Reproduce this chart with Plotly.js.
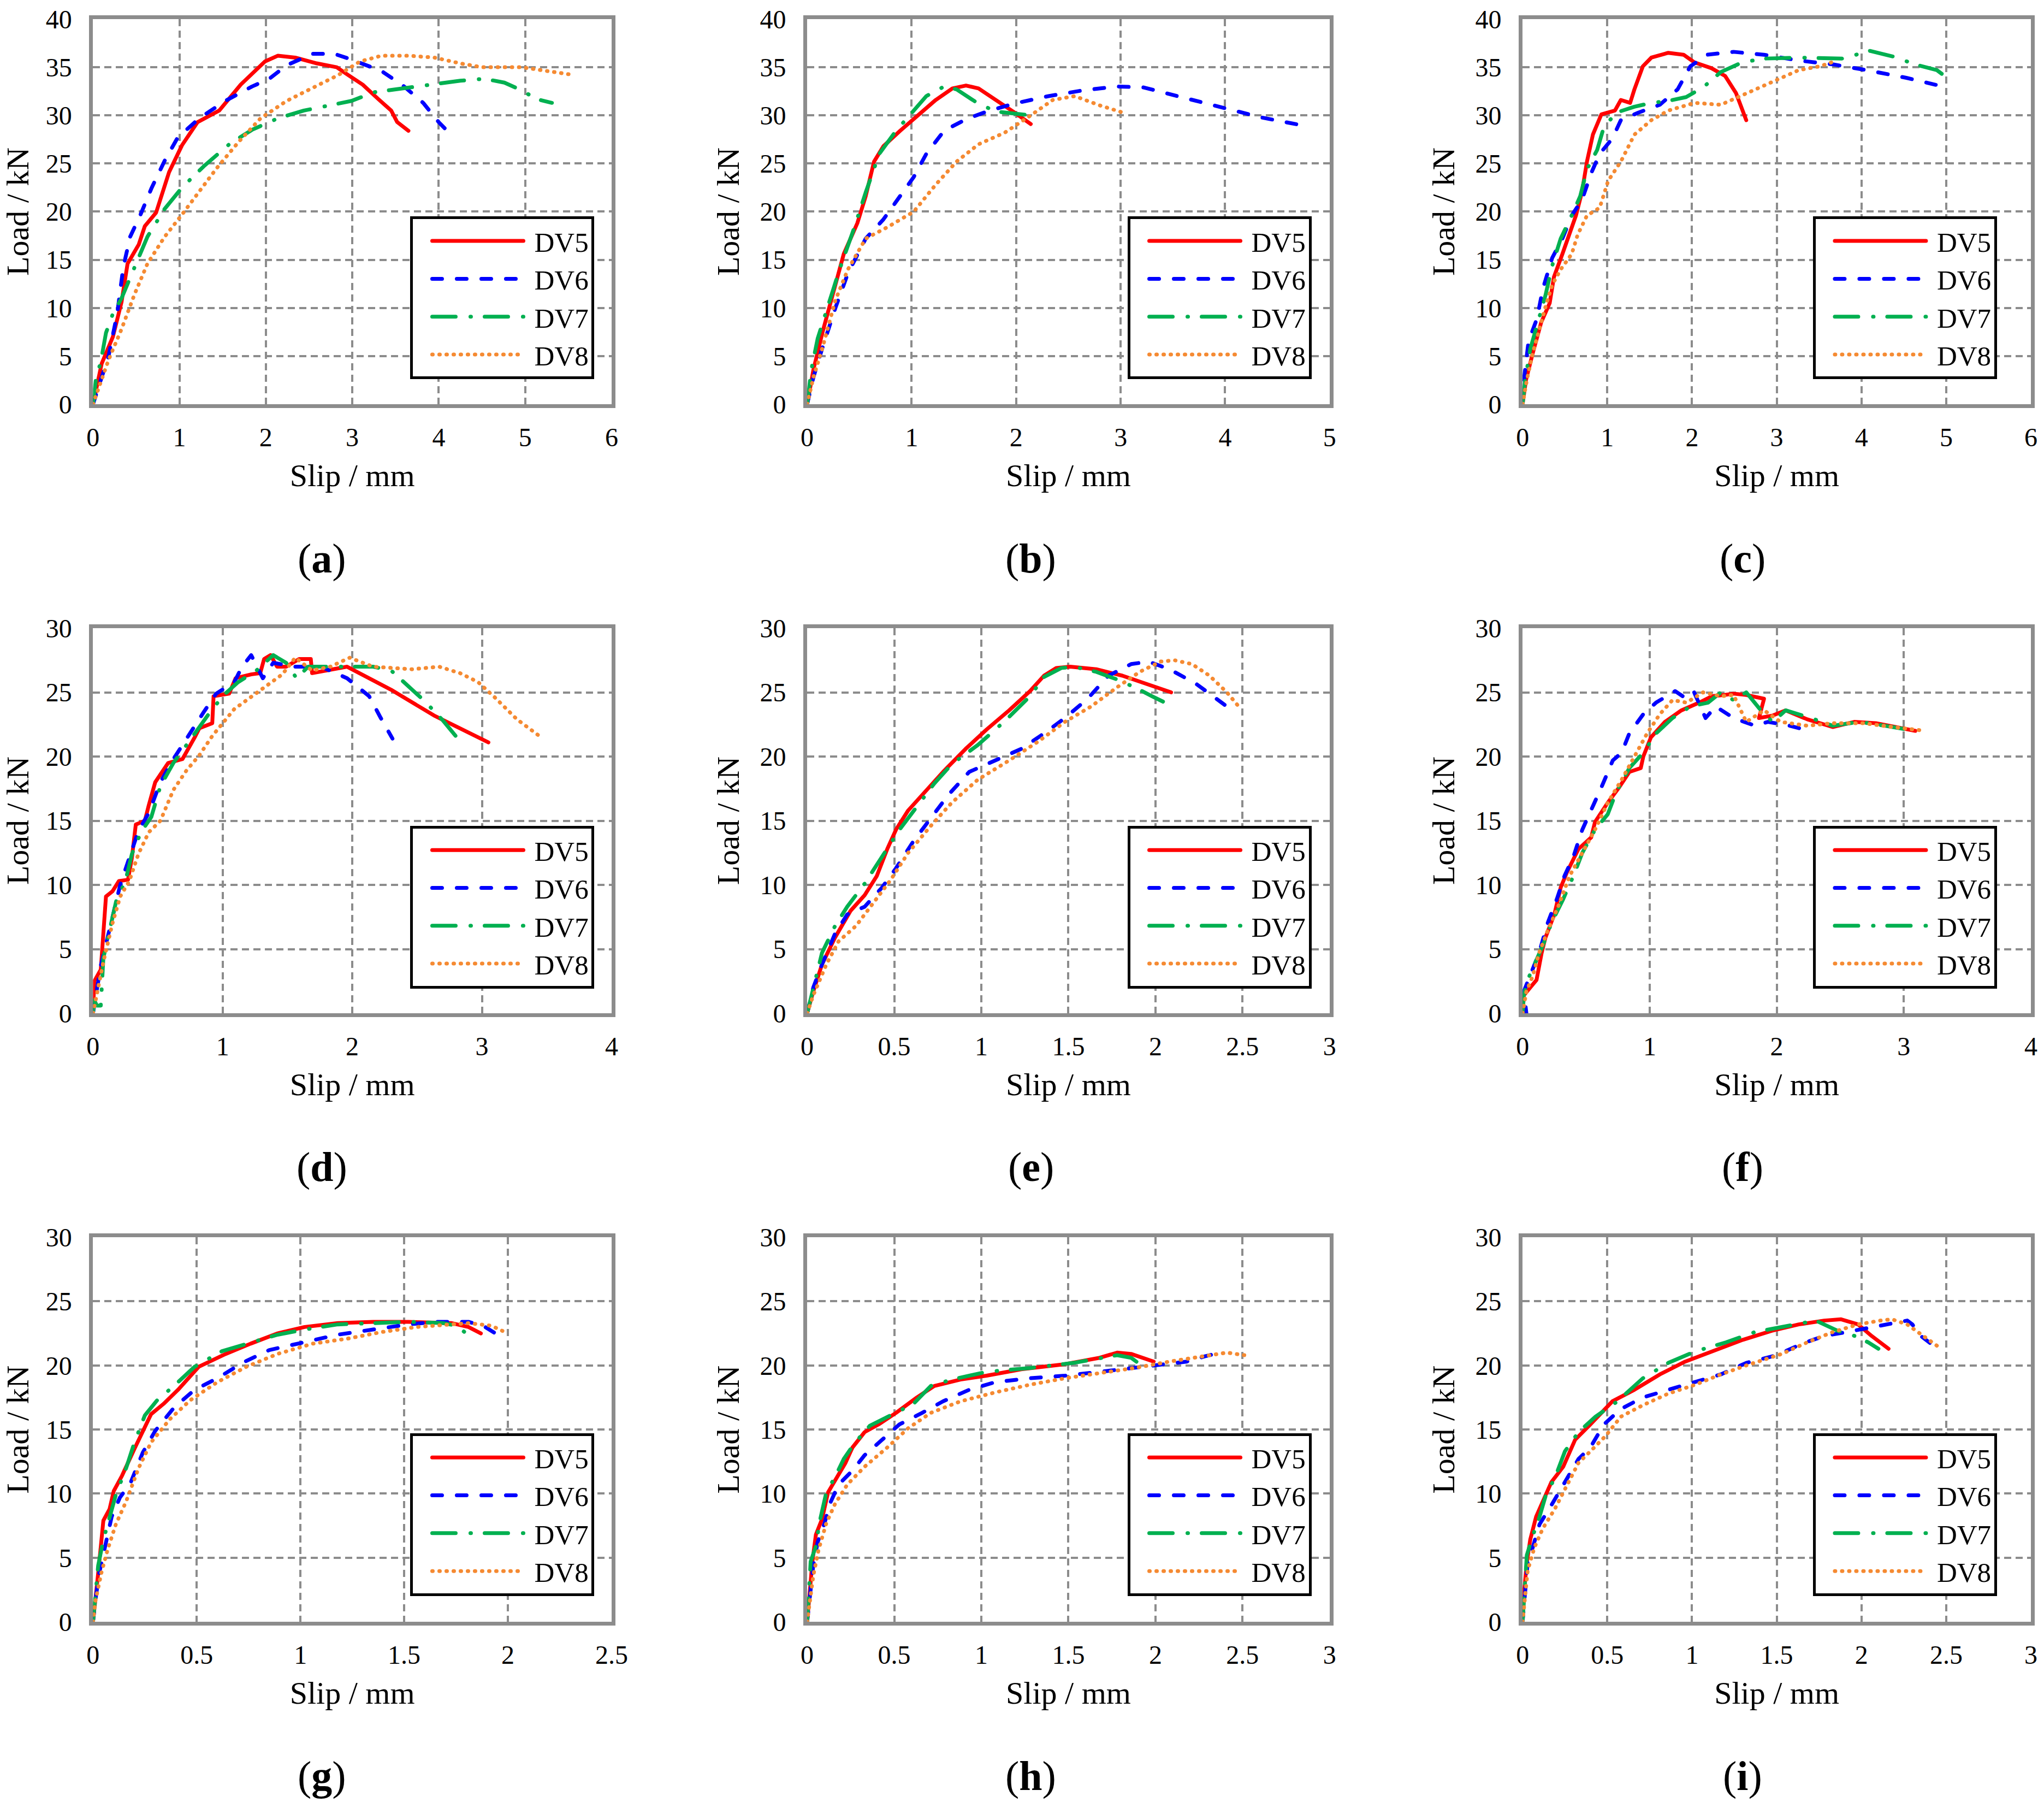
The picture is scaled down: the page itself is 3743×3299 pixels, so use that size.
<!DOCTYPE html>
<html>
<head>
<meta charset="utf-8">
<script src="https://cdn.plot.ly/plotly-3.0.1.min.js"></script>
<style>
  html, body { margin: 0; padding: 0; background: #fff; }
  #chart { width: 3743px; height: 3299px; }
</style>
</head>
<body>
<div id="chart"></div>
<script>
// panel set-up
const panels = ['a', 'b', 'c', 'd', 'e', 'f', 'g', 'h', 'i'];
const xMax = [6, 5, 6, 4, 3, 4, 2.5, 3, 3];
const xStep = [1, 1, 1, 1, 0.5, 1, 0.5, 0.5, 0.5];
const yMax = [40, 40, 40, 30, 30, 30, 30, 30, 30];
const seriesNames = ['DV5', 'DV6', 'DV7', 'DV8'];

// (a)
const slip_a_DV5 = [0, 0.1, 0.23, 0.33, 0.40, 0.53, 0.60, 0.73, 0.88, 1.03, 1.21, 1.46, 1.71, 1.99, 2.14, 2.34, 2.59, 2.82, 2.95, 3.12, 3.30, 3.45, 3.52, 3.65];
const load_a_DV5 = [0, 4.2, 7.0, 10.6, 14.6, 16.6, 18.5, 19.9, 24.1, 26.9, 29.3, 30.5, 33.2, 35.6, 36.2, 36.0, 35.4, 35.0, 34.2, 33.2, 31.7, 30.5, 29.3, 28.4];
const slip_a_DV6 = [0, 0.10, 0.18, 0.28, 0.35, 0.43, 0.55, 0.68, 0.83, 0.98, 1.23, 1.53, 1.84, 2.04, 2.24, 2.54, 2.79, 2.99, 3.34, 3.60, 3.82, 4.00, 4.14];
const load_a_DV6 = [0, 2.7, 5.0, 9.4, 14.2, 17.4, 19.7, 22.5, 25.3, 27.7, 29.7, 31.5, 33.0, 33.8, 35.2, 36.4, 36.4, 35.8, 34.6, 33.0, 31.3, 29.3, 28.0];
const slip_a_DV7 = [0, 0.035, 0.09, 0.15, 0.23, 0.33, 0.48, 0.63, 0.83, 1.03, 1.28, 1.59, 1.84, 2.14, 2.44, 2.74, 2.99, 3.25, 3.60, 3.95, 4.25, 4.53, 4.76, 4.96, 5.13, 5.31];
const load_a_DV7 = [0, 2.7, 4.4, 7.4, 9.4, 11.0, 14.2, 17.4, 20.3, 22.5, 24.7, 27.1, 28.5, 29.7, 30.5, 31.1, 31.5, 32.4, 32.8, 33.2, 33.6, 33.8, 33.4, 32.6, 31.7, 31.3];
const slip_a_DV8 = [0, 0.075, 0.18, 0.33, 0.48, 0.63, 0.83, 1.03, 1.23, 1.43, 1.69, 1.94, 2.24, 2.54, 2.84, 3.09, 3.34, 3.65, 3.95, 4.25, 4.50, 4.96, 5.26, 5.56];
const load_a_DV8 = [0, 1.9, 4.6, 7.8, 11.4, 14.6, 17.4, 19.7, 22.1, 24.5, 27.3, 29.7, 31.5, 32.8, 34.2, 35.6, 36.2, 36.2, 36.0, 35.4, 35.0, 35.0, 34.6, 34.2];

// (b)
const slip_b_DV5 = [0, 0.06, 0.15, 0.25, 0.35, 0.48, 0.56, 0.64, 0.73, 0.89, 1.02, 1.23, 1.39, 1.52, 1.64, 1.81, 1.97, 2.14];
const load_b_DV5 = [0, 3.6, 7.6, 11.6, 15.6, 18.8, 21.6, 25.2, 26.8, 28.4, 29.6, 31.6, 32.8, 33.1, 32.8, 31.6, 30.4, 29.1];
const slip_b_DV6 = [0, 0.06, 0.15, 0.27, 0.39, 0.56, 0.73, 0.89, 1.02, 1.14, 1.31, 1.52, 1.72, 1.97, 2.31, 2.64, 2.97, 3.22, 3.55, 3.97, 4.34, 4.72];
const load_b_DV6 = [0, 2.8, 6.0, 10.0, 13.6, 17.2, 19.2, 21.6, 23.6, 26.0, 28.4, 29.6, 30.4, 31.2, 32.0, 32.6, 33.0, 32.9, 32.0, 30.8, 29.8, 29.0];
const slip_b_DV7 = [0, 0.04, 0.10, 0.19, 0.31, 0.44, 0.56, 0.69, 0.85, 0.98, 1.14, 1.31, 1.43, 1.64, 1.81, 2.14];
const load_b_DV7 = [0, 3.6, 6.8, 10.0, 14.0, 18.0, 22.0, 26.0, 28.4, 30.0, 32.0, 33.0, 32.7, 31.2, 30.4, 30.0];
const slip_b_DV8 = [0, 0.06, 0.15, 0.27, 0.39, 0.56, 0.77, 1.02, 1.23, 1.43, 1.64, 1.89, 2.14, 2.35, 2.56, 2.81, 3.05];
const load_b_DV8 = [0, 2.8, 6.0, 10.8, 14.0, 17.2, 18.4, 20.0, 22.8, 25.2, 27.0, 28.2, 30.0, 31.6, 32.0, 31.0, 30.2];

// (c)
const slip_c_DV5 = [0, 0.04, 0.12, 0.22, 0.32, 0.37, 0.47, 0.55, 0.63, 0.70, 0.76, 0.83, 0.93, 1.09, 1.16, 1.27, 1.32, 1.42, 1.52, 1.72, 1.90, 2.03, 2.23, 2.39, 2.52, 2.64];
const load_c_DV5 = [0, 2.5, 5.3, 8.5, 10.5, 13.2, 15.6, 17.6, 19.6, 22.0, 25.2, 28.0, 30.1, 30.5, 31.6, 31.3, 32.7, 35.1, 36.0, 36.5, 36.3, 35.5, 34.9, 34.1, 32.3, 29.5];
const slip_c_DV6 = [0, 0.015, 0.07, 0.17, 0.24, 0.35, 0.47, 0.58, 0.70, 0.81, 0.91, 1.06, 1.16, 1.37, 1.62, 1.83, 1.98, 2.18, 2.49, 2.85, 3.26, 3.66, 4.06, 4.53, 4.96];
const load_c_DV6 = [0, 2.5, 6.5, 8.9, 12.0, 15.2, 17.2, 19.6, 21.2, 24.0, 26.0, 27.6, 29.5, 30.3, 31.1, 32.7, 35.1, 36.3, 36.6, 36.3, 35.7, 35.3, 34.7, 33.9, 33.0];
const slip_c_DV7 = [0, 0.03, 0.09, 0.17, 0.27, 0.35, 0.45, 0.58, 0.68, 0.76, 0.88, 0.96, 1.11, 1.32, 1.52, 1.72, 1.93, 2.13, 2.34, 2.59, 2.85, 3.26, 3.77, 4.10, 4.38, 4.63, 4.89, 5.07];
const load_c_DV7 = [0, 2.5, 5.7, 8.1, 11.3, 14.4, 17.2, 19.6, 21.6, 24.4, 26.4, 28.8, 30.3, 30.9, 31.3, 31.5, 31.9, 32.9, 34.5, 35.5, 35.9, 36.0, 35.9, 36.7, 36.1, 35.3, 34.7, 33.5];
const slip_c_DV8 = [0, 0.05, 0.12, 0.19, 0.27, 0.35, 0.45, 0.58, 0.65, 0.76, 0.91, 1.01, 1.16, 1.32, 1.52, 1.72, 2.03, 2.34, 2.64, 2.95, 3.26, 3.51, 3.71];
const load_c_DV8 = [0, 2.5, 5.3, 7.7, 10.1, 12.4, 14.0, 15.6, 17.6, 19.6, 20.4, 23.2, 25.2, 28.0, 29.5, 30.5, 31.3, 31.1, 32.3, 33.5, 34.7, 35.1, 35.7];

// (d)
const slip_d_DV5 = [0, 0.01, 0.06, 0.08, 0.10, 0.15, 0.20, 0.27, 0.30, 0.33, 0.40, 0.43, 0.48, 0.58, 0.69, 0.79, 0.82, 0.92, 0.93, 1.05, 1.10, 1.22, 1.29, 1.32, 1.37, 1.42, 1.49, 1.59, 1.68, 1.69, 1.96, 2.30, 2.63, 3.05];
const load_d_DV5 = [0, 2.5, 3.4, 6.1, 9.1, 9.5, 10.3, 10.4, 12.1, 14.7, 15.0, 16.2, 18.0, 19.5, 19.8, 21.6, 22.2, 22.6, 24.7, 24.9, 26.1, 26.4, 26.5, 27.6, 27.9, 27.0, 27.0, 27.6, 27.6, 26.5, 27.0, 25.2, 23.2, 21.1];
const slip_d_DV6 = [0, 0.03, 0.06, 0.11, 0.16, 0.21, 0.28, 0.35, 0.43, 0.52, 0.62, 0.75, 0.85, 0.95, 1.09, 1.15, 1.22, 1.31, 1.39, 1.56, 1.76, 1.96, 2.13, 2.22, 2.31];
const load_d_DV6 = [0, 1.9, 3.7, 5.8, 7.9, 10.0, 12.1, 14.2, 15.6, 18.0, 19.8, 21.9, 23.4, 24.9, 25.8, 27.0, 27.9, 26.1, 27.3, 27.0, 27.0, 26.1, 24.7, 23.0, 21.4];
const slip_d_DV7 = [0, 0.01, 0.03, 0.06, 0.08, 0.13, 0.18, 0.25, 0.30, 0.37, 0.45, 0.52, 0.62, 0.75, 0.92, 1.02, 1.12, 1.26, 1.39, 1.49, 1.57, 1.66, 1.83, 1.96, 2.16, 2.30, 2.40, 2.56, 2.70, 2.83];
const load_d_DV7 = [0, 1.0, 0.6, 0.6, 4.3, 6.4, 8.8, 10.3, 12.4, 14.1, 15.3, 17.7, 19.5, 21.3, 23.7, 24.9, 25.8, 26.7, 27.9, 27.3, 26.1, 27.0, 27.0, 27.0, 27.0, 26.7, 25.8, 24.3, 22.8, 21.2];
const slip_d_DV8 = [0, 0.03, 0.08, 0.15, 0.21, 0.28, 0.35, 0.43, 0.52, 0.62, 0.72, 0.82, 0.92, 1.09, 1.29, 1.46, 1.56, 1.69, 1.83, 1.98, 2.16, 2.46, 2.67, 2.83, 2.97, 3.10, 3.27, 3.47];
const load_d_DV8 = [0, 1.6, 4.0, 7.0, 9.1, 10.3, 12.4, 14.1, 15.0, 17.4, 18.9, 20.1, 21.6, 23.7, 25.2, 26.4, 27.7, 26.7, 27.0, 27.7, 27.0, 26.8, 27.0, 26.5, 25.8, 24.6, 22.9, 21.4];

// (e)
const slip_e_DV5 = [0, 0.035, 0.085, 0.16, 0.25, 0.33, 0.40, 0.46, 0.51, 0.58, 0.68, 0.78, 0.91, 1.03, 1.16, 1.28, 1.36, 1.43, 1.51, 1.66, 1.81, 1.96, 2.09];
const load_e_DV5 = [0, 1.7, 3.8, 5.9, 8.0, 9.2, 10.7, 12.8, 14.3, 15.8, 17.3, 18.8, 20.6, 22.1, 23.6, 25.1, 26.3, 26.9, 27.0, 26.8, 26.3, 25.6, 25.0];
const slip_e_DV6 = [0, 0.035, 0.085, 0.16, 0.23, 0.33, 0.43, 0.51, 0.61, 0.71, 0.81, 0.93, 1.08, 1.23, 1.36, 1.48, 1.61, 1.73, 1.86, 1.96, 2.08, 2.23, 2.41];
const load_e_DV6 = [0, 2.0, 3.8, 6.2, 7.7, 8.3, 9.8, 11.3, 13.4, 15.2, 17.0, 18.8, 19.7, 20.6, 21.8, 23.0, 24.5, 26.3, 27.2, 27.4, 26.8, 25.7, 23.9];
const slip_e_DV7 = [0, 0.035, 0.085, 0.16, 0.23, 0.33, 0.43, 0.53, 0.63, 0.73, 0.83, 0.98, 1.13, 1.28, 1.36, 1.46, 1.53, 1.66, 1.78, 1.88, 1.98, 2.07];
const load_e_DV7 = [0, 2.0, 4.7, 6.8, 8.3, 10.1, 12.2, 14.3, 16.1, 17.9, 19.4, 20.9, 22.7, 24.7, 26.2, 26.9, 27.0, 26.6, 26.0, 25.4, 24.7, 24.1];
const slip_e_DV8 = [0, 0.035, 0.11, 0.18, 0.28, 0.38, 0.48, 0.58, 0.71, 0.83, 0.98, 1.16, 1.33, 1.48, 1.63, 1.78, 1.91, 2.03, 2.11, 2.21, 2.31, 2.41, 2.49];
const load_e_DV8 = [0, 1.4, 3.8, 5.6, 6.8, 8.6, 10.4, 12.5, 14.6, 16.4, 18.2, 19.7, 21.2, 22.7, 23.9, 25.4, 26.6, 27.4, 27.5, 27.2, 26.3, 25.0, 23.7];

// (f)
const slip_f_DV5 = [0, 0.01, 0.06, 0.11, 0.15, 0.18, 0.25, 0.30, 0.35, 0.44, 0.54, 0.57, 0.67, 0.76, 0.84, 0.93, 0.95, 1.01, 1.12, 1.25, 1.39, 1.49, 1.59, 1.66, 1.76, 1.90, 1.86, 1.97, 2.07, 2.24, 2.44, 2.61, 2.78, 2.95, 3.09];
const load_f_DV5 = [0, 1.4, 2.0, 2.6, 4.7, 5.9, 7.7, 9.8, 11.0, 12.8, 13.7, 14.9, 16.4, 17.6, 18.8, 19.1, 20.0, 21.5, 22.7, 23.6, 24.2, 24.7, 24.8, 24.9, 24.8, 24.5, 23.0, 23.2, 23.6, 22.9, 22.3, 22.7, 22.6, 22.3, 22.0];
const slip_f_DV6 = [0, 0.03, 0.01, 0.06, 0.13, 0.20, 0.27, 0.33, 0.40, 0.47, 0.54, 0.62, 0.71, 0.78, 0.84, 0.95, 1.05, 1.15, 1.20, 1.29, 1.35, 1.44, 1.52, 1.66, 1.83, 1.93, 2.10, 2.22];
const load_f_DV6 = [0, 0, 1.7, 2.9, 4.7, 7.1, 8.9, 10.7, 12.2, 14.3, 15.8, 17.6, 19.7, 20.3, 21.8, 23.3, 24.2, 24.8, 25.1, 24.5, 25.0, 23.0, 23.9, 23.0, 22.4, 22.7, 22.4, 22.1];
const slip_f_DV7 = [0, 0.01, 0.04, 0.08, 0.11, 0.16, 0.23, 0.32, 0.40, 0.47, 0.57, 0.67, 0.74, 0.84, 0.95, 1.05, 1.18, 1.32, 1.46, 1.56, 1.66, 1.76, 1.90, 1.97, 2.07, 2.27, 2.44, 2.65, 2.85, 3.09];
const load_f_DV7 = [0, 1.4, 2.6, 3.5, 4.1, 5.3, 7.1, 8.9, 10.7, 12.5, 14.3, 15.5, 17.3, 19.1, 20.3, 21.8, 23.0, 23.9, 24.2, 25.0, 24.4, 25.0, 23.3, 22.7, 23.6, 23.0, 22.4, 22.7, 22.4, 22.0];
const slip_f_DV8 = [0, 0.03, 0.08, 0.13, 0.20, 0.28, 0.37, 0.47, 0.57, 0.67, 0.78, 0.88, 0.98, 1.08, 1.18, 1.29, 1.42, 1.56, 1.66, 1.76, 1.90, 2.03, 2.24, 2.44, 2.68, 2.91, 3.17];
const load_f_DV8 = [0, 1.7, 2.9, 4.7, 6.5, 8.3, 10.7, 12.5, 14.3, 16.4, 18.2, 20.0, 21.8, 23.3, 24.4, 24.2, 25.0, 24.7, 24.8, 22.7, 23.6, 22.7, 22.4, 22.6, 22.6, 22.3, 22.0];

// (g)
const slip_g_DV5 = [0, 0.01, 0.025, 0.05, 0.08, 0.10, 0.14, 0.20, 0.24, 0.28, 0.34, 0.41, 0.51, 0.64, 0.76, 0.89, 1.02, 1.18, 1.35, 1.52, 1.73, 1.81, 1.87];
const load_g_DV5 = [0, 1.8, 3.8, 7.9, 8.8, 10.2, 11.4, 13.5, 14.9, 16.2, 17.0, 18.1, 19.9, 20.9, 21.7, 22.5, 23.0, 23.3, 23.4, 23.4, 23.3, 23.0, 22.5];
const slip_g_DV6 = [0, 0.01, 0.03, 0.06, 0.09, 0.13, 0.18, 0.24, 0.30, 0.39, 0.49, 0.60, 0.72, 0.85, 1.02, 1.18, 1.35, 1.52, 1.65, 1.81, 1.88, 1.94];
const load_g_DV6 = [0, 1.5, 3.8, 6.1, 8.2, 9.7, 10.8, 13.2, 14.9, 16.7, 18.1, 19.0, 20.2, 21.2, 21.8, 22.4, 22.8, 23.2, 23.4, 23.4, 23.1, 22.5];
const slip_g_DV7 = [0, 0.01, 0.025, 0.05, 0.08, 0.11, 0.16, 0.20, 0.25, 0.31, 0.39, 0.49, 0.62, 0.76, 0.89, 1.02, 1.18, 1.35, 1.52, 1.69, 1.75, 1.80];
const load_g_DV7 = [0, 2.0, 4.4, 6.4, 8.2, 9.9, 12.0, 14.0, 16.1, 17.3, 18.4, 19.9, 21.1, 21.8, 22.4, 22.8, 23.2, 23.3, 23.4, 23.3, 23.1, 22.5];
const slip_g_DV8 = [0, 0.01, 0.04, 0.07, 0.11, 0.16, 0.22, 0.28, 0.37, 0.47, 0.60, 0.74, 0.89, 1.06, 1.23, 1.39, 1.56, 1.71, 1.81, 1.92, 2.00];
const load_g_DV8 = [0, 1.5, 3.8, 5.6, 7.6, 9.4, 12.0, 14.0, 15.8, 17.3, 18.7, 19.9, 20.9, 21.7, 22.1, 22.6, 23.0, 23.2, 23.3, 23.1, 22.5];

// (h)
const slip_h_DV5 = [0, 0.015, 0.03, 0.05, 0.085, 0.12, 0.17, 0.22, 0.26, 0.33, 0.41, 0.51, 0.63, 0.73, 0.88, 1.03, 1.23, 1.48, 1.68, 1.78, 1.86, 1.93, 1.99];
const load_h_DV5 = [0, 2.4, 4.7, 6.8, 8.0, 10.1, 11.3, 12.4, 13.6, 14.8, 15.4, 16.3, 17.5, 18.4, 18.9, 19.2, 19.7, 20.1, 20.6, 21.0, 20.9, 20.6, 20.3];
const slip_h_DV6 = [0, 0.015, 0.035, 0.06, 0.10, 0.13, 0.18, 0.26, 0.33, 0.43, 0.53, 0.66, 0.78, 0.93, 1.08, 1.28, 1.48, 1.68, 1.88, 2.03, 2.18, 2.28, 2.34];
const load_h_DV6 = [0, 2.1, 4.4, 6.2, 7.7, 9.2, 10.7, 11.8, 13.0, 14.2, 15.4, 16.3, 17.2, 18.1, 18.7, 19.0, 19.2, 19.5, 19.8, 20.1, 20.3, 20.7, 20.9];
const slip_h_DV7 = [0, 0.01, 0.02, 0.05, 0.07, 0.11, 0.16, 0.21, 0.27, 0.36, 0.48, 0.61, 0.71, 0.83, 1.03, 1.28, 1.53, 1.68, 1.78, 1.86, 1.91];
const load_h_DV7 = [0, 2.4, 4.7, 5.9, 7.7, 10.1, 11.3, 12.7, 13.9, 15.3, 16.1, 17.0, 18.4, 18.9, 19.5, 19.8, 20.2, 20.6, 20.8, 20.6, 20.1];
const slip_h_DV8 = [0, 0.015, 0.035, 0.065, 0.11, 0.16, 0.23, 0.33, 0.46, 0.58, 0.71, 0.88, 1.08, 1.28, 1.48, 1.68, 1.88, 2.08, 2.28, 2.41, 2.51];
const load_h_DV8 = [0, 1.8, 3.6, 5.6, 7.7, 9.2, 10.7, 12.1, 13.6, 15.1, 16.3, 17.2, 17.9, 18.5, 19.0, 19.4, 19.8, 20.3, 20.7, 21.0, 20.8];

// (i)
const slip_i_DV5 = [0, 0.01, 0.025, 0.045, 0.08, 0.12, 0.17, 0.24, 0.31, 0.40, 0.53, 0.66, 0.81, 0.96, 1.12, 1.30, 1.47, 1.63, 1.78, 1.88, 1.98, 2.06, 2.16];
const load_i_DV5 = [0, 2.5, 4.6, 6.4, 8.2, 9.4, 10.9, 12.1, 14.2, 15.4, 17.2, 18.1, 19.3, 20.3, 21.1, 22.0, 22.7, 23.2, 23.5, 23.6, 23.2, 22.3, 21.3];
const slip_i_DV6 = [0, 0.015, 0.03, 0.06, 0.10, 0.17, 0.25, 0.33, 0.40, 0.48, 0.58, 0.71, 0.86, 1.02, 1.17, 1.32, 1.50, 1.65, 1.78, 1.91, 2.04, 2.16, 2.27, 2.30, 2.35, 2.41];
const load_i_DV6 = [0, 2.2, 4.6, 5.8, 7.6, 9.1, 10.9, 12.7, 13.6, 15.4, 16.6, 17.5, 18.1, 18.7, 19.3, 20.2, 20.8, 21.7, 22.3, 22.6, 22.9, 23.2, 23.5, 23.2, 22.3, 21.7];
const slip_i_DV7 = [0, 0.01, 0.025, 0.06, 0.10, 0.14, 0.19, 0.25, 0.33, 0.43, 0.56, 0.71, 0.86, 1.02, 1.20, 1.37, 1.53, 1.73, 1.86, 1.96, 2.04, 2.10];
const load_i_DV7 = [0, 2.5, 5.2, 6.7, 8.2, 10.0, 11.2, 13.3, 14.8, 16.0, 17.2, 19.0, 20.2, 21.1, 21.8, 22.6, 23.0, 23.5, 22.7, 22.3, 21.8, 21.3];
const slip_i_DV8 = [0, 0.015, 0.03, 0.07, 0.12, 0.19, 0.25, 0.33, 0.40, 0.49, 0.58, 0.71, 0.86, 1.02, 1.17, 1.32, 1.53, 1.68, 1.83, 1.98, 2.11, 2.18, 2.27, 2.37, 2.46];
const load_i_DV8 = [0, 1.9, 4.0, 5.8, 7.3, 8.8, 10.3, 12.4, 13.3, 14.5, 16.0, 16.9, 17.8, 18.5, 19.3, 20.0, 20.9, 21.8, 22.6, 23.2, 23.5, 23.6, 23.2, 22.3, 21.4];

const slipSets = {
  a: [slip_a_DV5, slip_a_DV6, slip_a_DV7, slip_a_DV8],
  b: [slip_b_DV5, slip_b_DV6, slip_b_DV7, slip_b_DV8],
  c: [slip_c_DV5, slip_c_DV6, slip_c_DV7, slip_c_DV8],
  d: [slip_d_DV5, slip_d_DV6, slip_d_DV7, slip_d_DV8],
  e: [slip_e_DV5, slip_e_DV6, slip_e_DV7, slip_e_DV8],
  f: [slip_f_DV5, slip_f_DV6, slip_f_DV7, slip_f_DV8],
  g: [slip_g_DV5, slip_g_DV6, slip_g_DV7, slip_g_DV8],
  h: [slip_h_DV5, slip_h_DV6, slip_h_DV7, slip_h_DV8],
  i: [slip_i_DV5, slip_i_DV6, slip_i_DV7, slip_i_DV8]
};
const loadSets = {
  a: [load_a_DV5, load_a_DV6, load_a_DV7, load_a_DV8],
  b: [load_b_DV5, load_b_DV6, load_b_DV7, load_b_DV8],
  c: [load_c_DV5, load_c_DV6, load_c_DV7, load_c_DV8],
  d: [load_d_DV5, load_d_DV6, load_d_DV7, load_d_DV8],
  e: [load_e_DV5, load_e_DV6, load_e_DV7, load_e_DV8],
  f: [load_f_DV5, load_f_DV6, load_f_DV7, load_f_DV8],
  g: [load_g_DV5, load_g_DV6, load_g_DV7, load_g_DV8],
  h: [load_h_DV5, load_h_DV6, load_h_DV7, load_h_DV8],
  i: [load_i_DV5, load_i_DV6, load_i_DV7, load_i_DV8]
};

const lineColors = ['#FF0000', '#0000FF', '#00B050', '#F58A32'];
// dash lengths are for round caps (each cap adds half the width on both ends)
const lineDashes = ['solid', '18px,27px', '43px,27px,1px,25px', '1px,12px'];
const lineWidths = [7, 7, 7, 7];

const serif = "'Liberation Serif', 'Times New Roman', serif";
const colDomain = [[0.0455, 0.2992], [0.3949, 0.6505], [0.7449, 0.9936]];
const rowDomain = [[0.7757, 0.9894], [0.4377, 0.6514], [0.1000, 0.3134]];
const legendX = [0.2908, 0.6416, 0.9770];
const legendY = [0.7895, 0.4515, 0.1144];
const labelX = [0.1576, 0.5044, 0.8525];
const labelY = [0.6902, 0.3525, 0.0145];
const legendItemWidth = 212;
const legendLine = 'M35,0h167';

const axisStyle = {
  showgrid: true,
  gridcolor: '#8c8c8c',
  gridwidth: 4,
  griddash: '13px,8px',
  showline: true,
  mirror: true,
  linecolor: '#8c8c8c',
  linewidth: 7,
  zeroline: false,
  ticks: '',
  tick0: 0,
  tickfont: { family: serif, size: 48, color: '#000' },
  fixedrange: true
};

const traces = [];
const layout = {
  width: 3743,
  height: 3299,
  margin: { l: 0, r: 0, t: 0, b: 0 },
  paper_bgcolor: '#ffffff',
  plot_bgcolor: '#ffffff',
  font: { family: serif, size: 48, color: '#000' },
  showlegend: true,
  annotations: []
};

panels.forEach((p, i) => {
  const n = i + 1;
  const col = i % 3;
  const row = Math.floor(i / 3);
  const sfx = n === 1 ? '' : String(n);
  const legendName = 'legend' + sfx;

  layout['xaxis' + sfx] = Object.assign({}, axisStyle, {
    domain: colDomain[col],
    anchor: 'y' + sfx,
    range: [0, xMax[i]],
    dtick: xStep[i],
    ticklabelstandoff: 12,
    title: { text: 'Slip / mm', font: { family: serif, size: 58 }, standoff: 26 }
  });
  layout['yaxis' + sfx] = Object.assign({}, axisStyle, {
    domain: rowDomain[row],
    anchor: 'x' + sfx,
    range: [0, yMax[i]],
    dtick: 5,
    ticklabelstandoff: 22,
    title: { text: 'Load / kN', font: { family: serif, size: 58 }, standoff: 22 }
  });
  layout[legendName] = {
    x: legendX[col],
    y: legendY[row],
    xanchor: 'right',
    yanchor: 'bottom',
    bgcolor: '#ffffff',
    bordercolor: '#000000',
    borderwidth: 5,
    font: { family: serif, size: 51, color: '#000' },
    itemwidth: legendItemWidth,
    tracegroupgap: 0
  };

  seriesNames.forEach((s, j) => {
    traces.push({
      type: 'scatter',
      mode: 'lines',
      name: s,
      x: slipSets[p][j],
      y: loadSets[p][j],
      xaxis: 'x' + sfx,
      yaxis: 'y' + sfx,
      legend: legendName,
      line: { color: lineColors[j], width: lineWidths[j], dash: lineDashes[j] }
    });
  });

  layout.annotations.push({
    text: '(<b>' + p + '</b>)',
    xref: 'paper', yref: 'paper',
    x: labelX[col], y: labelY[row],
    xanchor: 'center', yanchor: 'middle',
    showarrow: false,
    font: { family: serif, size: 76, color: '#000' }
  });
});

Plotly.newPlot('chart', traces, layout, { staticPlot: true, displayModeBar: false }).then(gd => {
  // longer legend samples, and round caps so the dotted series reads as dots
  gd.querySelectorAll('.legendlines path').forEach(el => {
    el.setAttribute('d', legendLine);
  });
  gd.querySelectorAll('.scatterlayer path.js-line, .legendlines path').forEach(el => {
    el.style.strokeLinecap = 'round';
    el.style.strokeLinejoin = 'round';
  });
});
</script>
</body>
</html>
